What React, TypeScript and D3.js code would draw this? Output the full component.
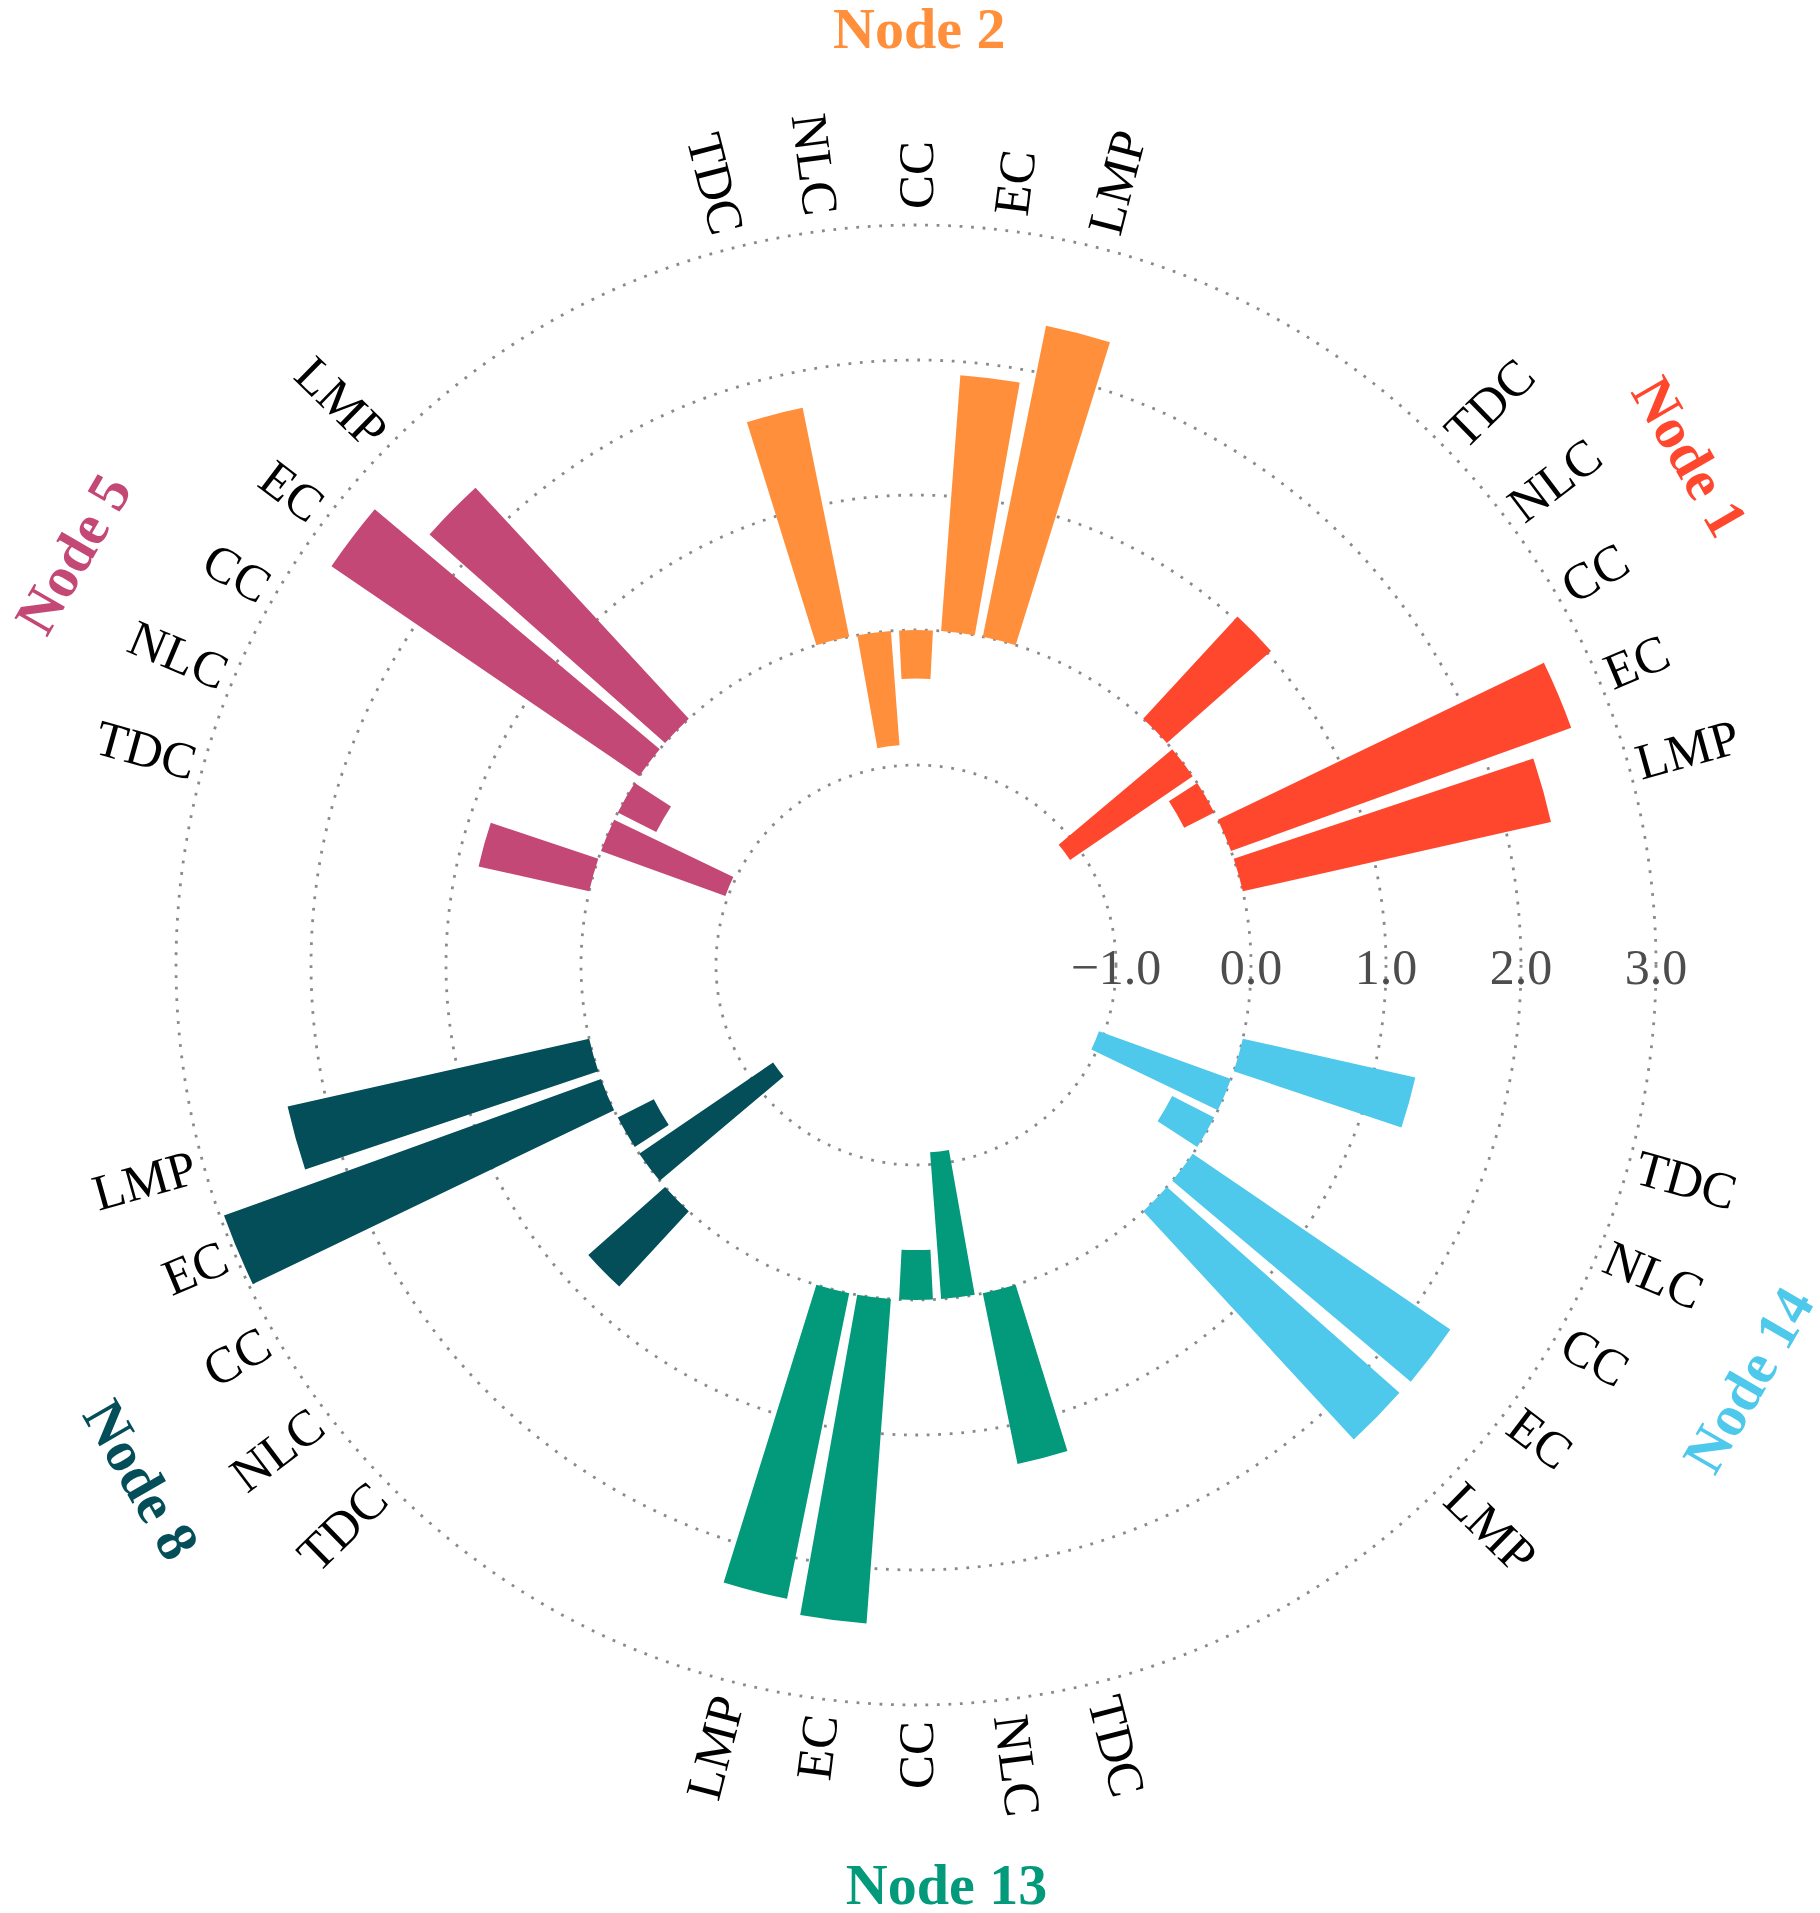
import React from "react";
import * as d3 from "d3";

// ---- data ----
const groups = ["Node 2", "Node 1", "Node 14", "Node 13", "Node 8", "Node 5"];
const metrics = ["TDC", "NLC", "CC", "EC", "LMP"];
const node2 = [1.73, -0.85, -0.36, 1.9, 2.35];
const node1 = [1.03, -1.1, -0.25, 2.68, 2.34];
const node14 = [1.31, -1.04, -0.35, 2.31, 2.3];
const node13 = [1.29, -1.09, -0.37, 2.41, 2.31];
const node8 = [0.76, -1.2, -0.3, 2.97, 2.29];
const node5 = [0.84, -0.98, -0.32, 2.76, 2.33];
const groupValues = [node2, node1, node14, node13, node8, node5];
const radialTicks = [-1, 0, 1, 2, 3];

// ---- styles / layout ----
const groupColors = ["#FF8F3B", "#FF472E", "#4EC8EB", "#029A7A", "#034E58", "#C44875"];
const titleAngles = [0.2, 56.7, 116.5, 178.1, 236.4, 296];
const titleRadii = [937, 926, 930, 920, 930, 938];
const titleRotations = [0, 60, -60, 0, 60, -60];

const W = 1820;
const H = 1913;
const cx = 916;
const cy = 965;
const SERIF = "'Liberation Serif', 'Times New Roman', Times, serif";

export default function App() {
  const r = d3.scaleLinear().domain([-1, 3]).range([200, 740]);
  const groupAngle = d3.scalePoint<string>().domain(groups).range([0, 300]);
  const offset = d3.scalePoint<string>().domain(metrics).range([-14.4, 14.4]);
  const barWidth = 5.8;
  const labelRx = 748;
  const labelRy = 756;
  const fmt = d3.format(".1f");
  const toRad = (d: number) => (d * Math.PI) / 180;
  const arc = d3.arc<any>();

  const bars: any[] = [];
  const labels: any[] = [];
  groups.forEach((g, gi) => {
    metrics.forEach((m, mi) => {
      const theta = (groupAngle(g) as number) + (offset(m) as number);
      const v = groupValues[gi][mi];
      const r0 = r(0);
      const r1 = r(v);
      const d = arc({
        innerRadius: Math.min(r0, r1),
        outerRadius: Math.max(r0, r1),
        startAngle: toRad(theta - barWidth / 2),
        endAngle: toRad(theta + barWidth / 2),
      });
      bars.push({ key: g + m, d, color: groupColors[gi] });
      const a = ((theta % 360) + 360) % 360;
      const right = a < 180;
      const s = Math.sin(toRad(a));
      const c = Math.cos(toRad(a));
      const lr = 1 / Math.sqrt((s * s) / (labelRx * labelRx) + (c * c) / (labelRy * labelRy));
      const px = cx + lr * s;
      const py = cy - lr * c;
      labels.push({
        key: g + m + "l",
        text: m,
        px,
        py,
        rot: right ? a - 90 : a - 270,
        anchor: right ? "start" : "end",
      });
    });
  });

  return (
    <svg
      width={W}
      height={H}
      viewBox={`0 0 ${W} ${H}`}
      style={{ position: "absolute", left: 0, top: 0, background: "#ffffff" }}
    >
      <rect x={0} y={0} width={W} height={H} fill="#ffffff" />
      <g>
        {radialTicks.map((t) => (
          <circle
            key={"c" + t}
            cx={cx}
            cy={cy}
            r={r(t)}
            fill="none"
            stroke="#8a8a8a"
            strokeWidth={2.8}
            strokeDasharray="2.8 8.7"
          />
        ))}
      </g>
      <g transform={`translate(${cx},${cy})`}>
        {bars.map((b) => (
          <path key={b.key} d={b.d} fill={b.color} />
        ))}
      </g>
      <g>
        {radialTicks.map((t) => (
          <text
            key={"t" + t}
            x={cx + r(t)}
            y={cy + 19}
            textAnchor="middle"
            fontFamily={SERIF}
            fontSize={50}
            fill="#4d4d4d"
          >
            {fmt(t)}
          </text>
        ))}
      </g>
      <g>
        {labels.map((l) => (
          <text
            key={l.key}
            transform={`translate(${l.px},${l.py}) rotate(${l.rot})`}
            textAnchor={l.anchor}
            dominantBaseline="central"
            fontFamily={SERIF}
            fontSize={51}
            fill="#000000"
          >
            {l.text}
          </text>
        ))}
      </g>
      <g>
        {groups.map((g, gi) => {
          const a = toRad(titleAngles[gi]);
          const tr = titleRadii[gi];
          const px = cx + tr * Math.sin(a);
          const py = cy - tr * Math.cos(a);
          return (
            <text
              key={"title" + g}
              transform={`translate(${px},${py}) rotate(${titleRotations[gi]})`}
              textAnchor="middle"
              dominantBaseline="central"
              fontFamily={SERIF}
              fontWeight="bold"
              fontSize={58}
              fill={groupColors[gi]}
            >
              {g}
            </text>
          );
        })}
      </g>
    </svg>
  );
}
